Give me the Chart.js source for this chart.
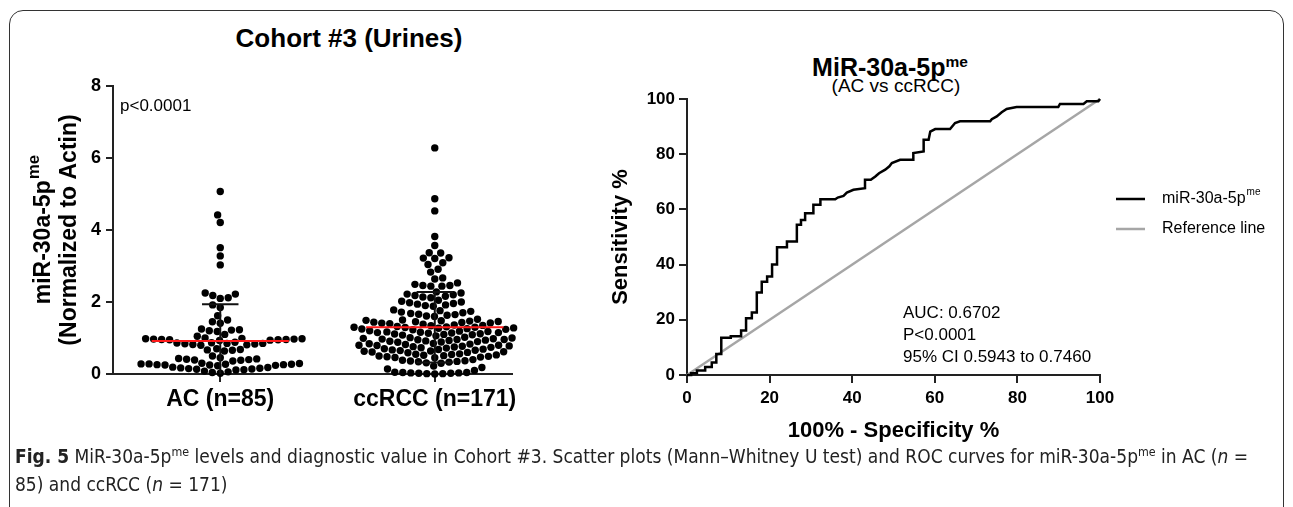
<!DOCTYPE html>
<html>
<head>
<meta charset="utf-8">
<script src="https://cdn.jsdelivr.net/npm/chart.js@4.4.1/dist/chart.umd.min.js"></script>
<style>
  body { margin: 0; background: #fff; width: 1293px; height: 507px; overflow: hidden; position: relative;
         font-family: "Liberation Sans", Arial, sans-serif; color: #000; }
  #frame { position: absolute; left: 9px; top: 10px; width: 1275px; height: 560px;
           border: 1.5px solid #333; border-radius: 14px; box-sizing: border-box; }
  #left { position: absolute; left: 0; top: 0; }
  #right { position: absolute; left: 580px; top: 0; }
  .ttl { position: absolute; transform: translateX(-50%); white-space: nowrap; }
  .ttl sup { font-size: 62%; }
  #caption { position: absolute; left: 15px; top: 438px; font-family: "Liberation Sans Narrow", "DejaVu Sans Condensed", sans-serif;
             font-size: 19px; line-height: 28px; color: #222; white-space: nowrap; }
  #caption sup { font-size: 65%; }
</style>
</head>
<body>
<div id="frame"></div>
<div class="ttl" style="left:349px;top:22px;font-size:26px;font-weight:bold;line-height:32px">Cohort #3 (Urines)</div>
<div class="ttl" style="left:890px;top:47px;font-size:25px;font-weight:bold;line-height:30px">MiR-30a-5p<sup>me</sup></div>
<div class="ttl" style="left:896px;top:74px;font-size:19px;line-height:24px">(AC vs ccRCC)</div>
<canvas id="left" width="580" height="425"></canvas>
<canvas id="right" width="713" height="445"></canvas>
<div id="caption"><b>Fig. 5</b> MiR-30a-5p<sup>me</sup> levels and diagnostic value in Cohort #3. Scatter plots (Mann–Whitney U test) and ROC curves for miR-30a-5p<sup>me</sup> in AC (<i>n</i> =<br>85) and ccRCC (<i>n</i> = 171)</div>
<script>
// groups on the scatter plot
const groups = ["AC (n=85)", "ccRCC (n=171)"];
const groupPos = [1, 2];

// miR-30a-5p me values
const acValues = [
  5.07, 4.42, 4.21, 3.51, 3.28, 3.03,
  2.25, 2.22, 2.18, 2.12, 2.10, 1.92, 1.85,
  1.62, 1.50, 1.45, 1.41, 1.25, 1.23, 1.22, 1.20, 1.18, 1.10, 1.05,
  1.00, 0.99, 0.98, 0.98, 0.97, 0.97, 0.96, 0.96, 0.95, 0.95, 0.94, 0.93,
  0.88, 0.87, 0.86, 0.85, 0.85, 0.84, 0.83, 0.82, 0.81, 0.80,
  0.70, 0.68, 0.67, 0.66, 0.64, 0.50,
  0.45, 0.43, 0.42, 0.41, 0.40, 0.39, 0.38, 0.36,
  0.30, 0.29, 0.28, 0.28, 0.27, 0.27, 0.26, 0.26, 0.25, 0.25, 0.24, 0.23,
  0.19, 0.18, 0.17, 0.16, 0.15, 0.14, 0.13, 0.12, 0.11,
  0.08, 0.06, 0.04, 0.02
];
const ccValues = [
  6.28, 4.87, 4.53, 3.82, 3.57, 3.37, 3.36, 3.23, 3.21, 3.22, 3.09, 3.04, 2.91, 2.83, 2.67, 2.64,
  2.53, 2.49, 2.46, 2.46, 2.44, 2.44,
  2.28, 2.25, 2.22, 2.20, 2.18, 2.16, 2.14, 2.12,
  2.05, 2.02, 2.00, 1.98, 1.96, 1.94, 1.92, 1.90, 1.88,
  1.78, 1.76, 1.74, 1.72, 1.70, 1.68, 1.66, 1.65, 1.63, 1.61, 1.60,
  1.52, 1.50, 1.49, 1.48, 1.47, 1.46, 1.45, 1.44, 1.43, 1.42, 1.41, 1.40, 1.38,
  1.36, 1.35, 1.34, 1.33, 1.32, 1.31, 1.30, 1.30, 1.29, 1.28, 1.27, 1.26, 1.25, 1.24, 1.23,
  1.20, 1.19, 1.18, 1.17, 1.16, 1.15, 1.15, 1.14, 1.13, 1.12, 1.11, 1.10, 1.09, 1.08, 1.06,
  1.02, 1.01, 1.00, 0.99, 0.98, 0.97, 0.96, 0.96, 0.95, 0.94, 0.93, 0.92, 0.91, 0.90, 0.89, 0.88,
  0.85, 0.84, 0.83, 0.82, 0.81, 0.80, 0.80, 0.79, 0.78, 0.77, 0.76, 0.75, 0.74, 0.73, 0.72,
  0.70, 0.69, 0.68, 0.67, 0.66, 0.65, 0.64, 0.63, 0.62, 0.61, 0.60, 0.59,
  0.56, 0.55, 0.54, 0.53, 0.52, 0.51, 0.50, 0.49, 0.48, 0.47, 0.46, 0.45,
  0.40, 0.38, 0.37, 0.36, 0.35, 0.34, 0.33, 0.31, 0.30,
  0.22, 0.18, 0.14, 0.10,
  0.05, 0.04, 0.04, 0.03, 0.03, 0.02, 0.02, 0.01, 0.01, 0.00
];
// mean and SD as drawn (red line, black error bar)
const groupMean = [0.92, 1.30];
const groupSD = [1.02, 0.98];

// ROC curve: 100% - specificity vs sensitivity
const rocX = [0, 1, 1, 2.4, 2.4, 4.4, 4.4, 6, 6, 7.1, 7.1, 8.3, 8.3, 10.6, 10.6, 13.1, 13.1, 14.3, 14.3, 15.7, 15.7,
  16.9, 16.9, 18.1, 18.1, 19.4, 19.4, 20.6, 20.6, 21.8, 21.8, 24.2, 24.2, 26.6, 26.6, 27.6, 27.6, 28.6, 28.6,
  30.6, 30.6, 32.3, 32.3, 35.9, 36.5, 37.9, 38.7, 40.3, 43.1, 43.1, 44.5, 45.6, 46.5, 48, 49, 49.6, 51.6,
  54.8, 54.8, 57.3, 57.3, 58.5, 58.9, 60.1, 63.7, 64.9, 66.1, 73.4, 73.8, 75, 76.2, 77.4, 79.8, 89.9, 90.3,
  96, 96.8, 99.6, 100];
const rocY = [0, 0, 0.6, 0.6, 1.6, 1.6, 2.9, 2.9, 4.5, 4.5, 7.6, 7.6, 13.5, 13.5, 14, 14, 16.1, 16.1, 20.6, 20.6, 22.6,
  22.6, 29.9, 29.9, 33.8, 33.8, 35.7, 35.7, 40, 40, 46.3, 46.3, 48.4, 48.4, 54.4, 54.4, 56.2, 56.2, 58.6,
  58.6, 61.7, 61.7, 63.7, 63.7, 64.3, 64.9, 66.1, 67.1, 67.7, 70.7, 70.7, 71.9, 73.1, 74.4, 75.6, 76.8, 78,
  78, 80.4, 81, 85.2, 85.2, 88.2, 89.1, 89.1, 91.3, 91.9, 91.9, 92.7, 93.7, 95.2, 96.4, 97.1, 97.1, 98.2,
  98.2, 99.2, 99.2, 100];
const refX = [0, 100];
const refY = [0, 100];
const rocTicks = [0, 20, 40, 60, 80, 100];
const scatterTicks = [0, 2, 4, 6, 8];

Chart.defaults.font.family = '"Liberation Sans", Arial, sans-serif';
Chart.defaults.color = "#000";

const AXIS = "#222";
const FONT = '"Liberation Sans", Arial, sans-serif';

function supText(ctx, base, sup, x, y, size, weight, supScale, align) {
  ctx.font = weight + " " + size + "px " + FONT;
  const w1 = ctx.measureText(base).width;
  ctx.font = weight + " " + Math.round(size * supScale) + "px " + FONT;
  const w2 = ctx.measureText(sup).width;
  const x0 = align === "center" ? x - (w1 + w2) / 2 : x;
  ctx.textAlign = "left";
  ctx.textBaseline = "middle";
  ctx.font = weight + " " + size + "px " + FONT;
  ctx.fillText(base, x0, y);
  ctx.font = weight + " " + Math.round(size * supScale) + "px " + FONT;
  ctx.fillText(sup, x0 + w1 + 1, y - size * 0.4);
}

// extra text on the dot plot
const leftText = {
  id: "leftText",
  afterDraw(chart) {
    const ctx = chart.ctx;
    const a = chart.chartArea;
    ctx.save();
    ctx.fillStyle = "#000";
    ctx.font = "17px " + FONT;
    ctx.textAlign = "left";
    ctx.textBaseline = "middle";
    ctx.fillText("p<0.0001", a.left + 7, 106);
    const cy = (a.top + a.bottom) / 2;
    ctx.translate(44, cy);
    ctx.rotate(-Math.PI / 2);
    supText(ctx, "miR-30a-5p", "me", 0, 0, 23, "bold", 0.75, "center");
    ctx.font = "bold 23px " + FONT;
    ctx.textAlign = "center";
    ctx.fillText("(Normalized to Actin)", 0, 26);
    ctx.restore();
  }
};

// axis titles, stats and legend on the ROC plot
const rightText = {
  id: "rightText",
  afterDraw(chart) {
    const ctx = chart.ctx;
    const a = chart.chartArea;
    ctx.save();
    ctx.fillStyle = "#000";
    ctx.font = "bold 22px " + FONT;
    ctx.textAlign = "center";
    ctx.textBaseline = "middle";
    ctx.fillText("100% - Specificity %", (a.left + a.right) / 2, 431);
    ctx.translate(41, (a.top + a.bottom) / 2);
    ctx.rotate(-Math.PI / 2);
    ctx.fillText("Sensitivity %", 0, 0);
    ctx.restore();

    ctx.save();
    ctx.fillStyle = "#000";
    ctx.font = "17px " + FONT;
    ctx.textAlign = "left";
    ctx.textBaseline = "middle";
    ["AUC: 0.6702", "P<0.0001", "95% CI 0.5943 to 0.7460"].forEach((t, i) => ctx.fillText(t, 323, 313 + i * 22));

    const lx = a.right + 16;
    ctx.lineWidth = 2.5;
    ctx.strokeStyle = "#000";
    ctx.beginPath(); ctx.moveTo(lx, 199); ctx.lineTo(lx + 29, 199); ctx.stroke();
    ctx.strokeStyle = "#a6a6a6";
    ctx.beginPath(); ctx.moveTo(lx, 229); ctx.lineTo(lx + 29, 229); ctx.stroke();
    supText(ctx, "miR-30a-5p", "me", lx + 46, 199, 16, "normal", 0.65, "left");
    ctx.font = "16px " + FONT;
    ctx.fillText("Reference line", lx + 46, 229);
    ctx.restore();
  }
};

function statLines() {
  const sets = [];
  groupPos.forEach((c, i) => {
    const m = groupMean[i], s = groupSD[i];
    const lo = Math.max(0, m - s), hi = m + s;
    sets.push({ data: [{ x: c - 0.32, y: m }, { x: c + 0.32, y: m }], borderColor: "#ff1a1a", borderWidth: 2, order: 0 });
    sets.push({ data: [{ x: c, y: lo }, { x: c, y: hi }], borderColor: "#111", borderWidth: 2, order: 1 });
    sets.push({ data: [{ x: c - 0.085, y: hi }, { x: c + 0.085, y: hi }], borderColor: "#111", borderWidth: 2, order: 1 });
    if (m - s > 0) {
      sets.push({ data: [{ x: c - 0.085, y: lo }, { x: c + 0.085, y: lo }], borderColor: "#111", borderWidth: 2, order: 1 });
    }
  });
  return sets.map(d => Object.assign(d, { showLine: true, pointRadius: 0, tension: 0, clip: false }));
}

const leftChart = new Chart(document.getElementById("left"), {
  type: "scatter",
  data: {
    datasets: [
      { data: [], pointRadius: 3.7, backgroundColor: "#000", borderWidth: 0, order: 2, clip: false },
      { data: [], pointRadius: 3.7, backgroundColor: "#000", borderWidth: 0, order: 2, clip: false }
    ].concat(statLines())
  },
  options: {
    responsive: false,
    animation: false,
    events: [],
    layout: { padding: { left: 0, top: 86, right: 68, bottom: 0 } },
    plugins: { legend: { display: false }, tooltip: { enabled: false } },
    scales: {
      x: {
        type: "linear", min: 0.5, max: 2.36,
        afterBuildTicks(s) { s.ticks = groupPos.map(v => ({ value: v })); },
        afterFit(s) { s.height = 51; },
        ticks: { callback: v => groups[groupPos.indexOf(v)], font: { size: 23, weight: "bold" }, color: "#000", padding: 4, maxRotation: 0 },
        grid: { drawOnChartArea: false, tickLength: 8, color: AXIS, lineWidth: 2 },
        border: { color: AXIS, width: 2 }
      },
      y: {
        min: 0, max: 8,
        afterBuildTicks(s) { s.ticks = scatterTicks.map(v => ({ value: v })); },
        afterFit(s) { s.width = 113; },
        ticks: { font: { size: 18, weight: "bold" }, color: "#000", padding: 5 },
        grid: { drawOnChartArea: false, tickLength: 7, color: AXIS, lineWidth: 2 },
        border: { color: AXIS, width: 2 }
      }
    }
  },
  plugins: [leftText]
});

// beeswarm spread of the dots, worked out in pixels and mapped back to the x scale
function swarm(values, center, xs, ys, d) {
  const cx = xs.getPixelForValue(center);
  const pts = values.map(v => ({ v: v, py: ys.getPixelForValue(v) })).sort((a, b) => a.v - b.v);
  const placed = [];
  let flip = 1;
  pts.forEach(p => {
    const near = placed.filter(q => Math.abs(q.py - p.py) < d);
    const cands = [0];
    near.forEach(q => {
      const dx = Math.sqrt(d * d - (q.py - p.py) * (q.py - p.py));
      cands.push(q.dx + dx, q.dx - dx);
    });
    cands.sort((a, b) => (Math.abs(a) - Math.abs(b)) || (flip * (b - a)));
    p.dx = cands.find(c => near.every(q => (q.dx - c) * (q.dx - c) + (q.py - p.py) * (q.py - p.py) >= d * d - 0.01));
    flip = -flip;
    placed.push(p);
  });
  return placed.map(p => ({ x: xs.getValueForPixel(cx + p.dx), y: p.v }));
}

const xs = leftChart.scales.x, ys = leftChart.scales.y;
leftChart.data.datasets[0].data = swarm(acValues, groupPos[0], xs, ys, 8);
leftChart.data.datasets[1].data = swarm(ccValues, groupPos[1], xs, ys, 8);
leftChart.update("none");

new Chart(document.getElementById("right"), {
  type: "scatter",
  data: {
    datasets: [
      { label: "miR-30a-5pme", data: rocX.map((x, i) => ({ x: x, y: rocY[i] })), showLine: true, borderColor: "#000",
        borderWidth: 2.5, pointRadius: 0, tension: 0, order: 0, clip: false },
      { label: "Reference line", data: refX.map((x, i) => ({ x: x, y: refY[i] })), showLine: true, borderColor: "#a6a6a6",
        borderWidth: 2.5, pointRadius: 0, tension: 0, order: 1, clip: false }
    ]
  },
  options: {
    responsive: false,
    animation: false,
    events: [],
    layout: { padding: { left: 0, top: 99, right: 193, bottom: 0 } },
    plugins: { legend: { display: false }, tooltip: { enabled: false } },
    scales: {
      x: {
        type: "linear", min: 0, max: 100,
        afterBuildTicks(s) { s.ticks = rocTicks.map(v => ({ value: v })); },
        afterFit(s) { s.height = 70; },
        ticks: { font: { size: 17, weight: "bold" }, color: "#000", padding: 5, maxRotation: 0 },
        grid: { drawOnChartArea: false, tickLength: 8, color: AXIS, lineWidth: 2 },
        border: { color: AXIS, width: 2 }
      },
      y: {
        min: 0, max: 100,
        afterBuildTicks(s) { s.ticks = rocTicks.map(v => ({ value: v })); },
        afterFit(s) { s.width = 107; },
        ticks: { font: { size: 17, weight: "bold" }, color: "#000", padding: 4 },
        grid: { drawOnChartArea: false, tickLength: 8, color: AXIS, lineWidth: 2 },
        border: { color: AXIS, width: 2 }
      }
    }
  },
  plugins: [rightText]
});
</script>
</body>
</html>
